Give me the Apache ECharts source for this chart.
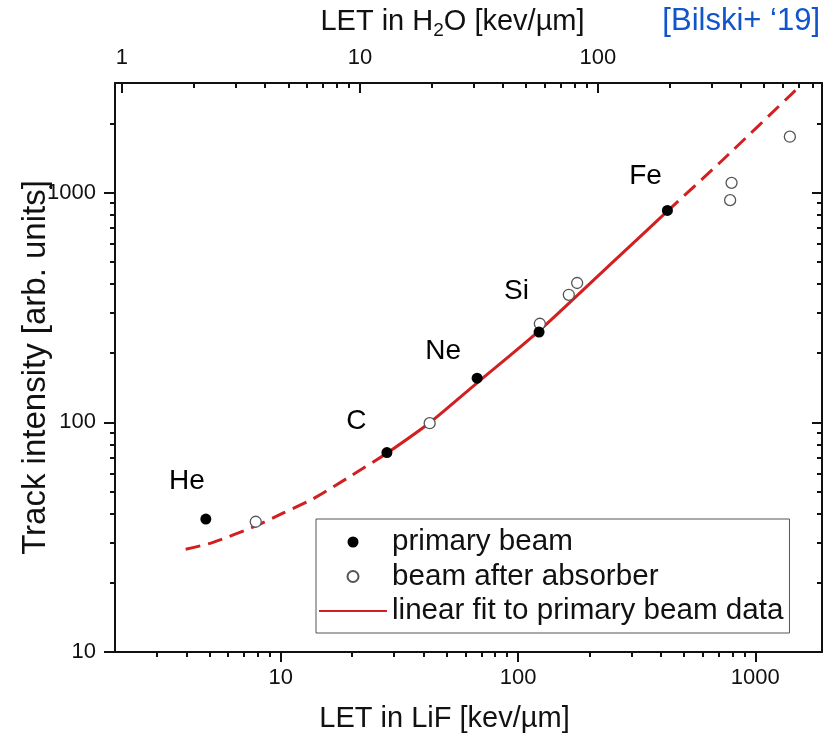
<!DOCTYPE html>
<html><head><meta charset="utf-8">
<script src="https://cdn.jsdelivr.net/npm/echarts@6/dist/echarts.min.js"></script>
<style>html,body{margin:0;padding:0;background:#fff}#c{width:839px;height:740px}</style>
</head><body><div id="c"></div>
<script>
// ---- data ----
const primaryLiF = [4.83, 28.0, 67.2, 122.6, 426];
const primaryIntensity = [37.9, 73.8, 155.7, 247, 836];
const absorberLiF = [7.84, 42.4, 123.5, 163.6, 177.4, 783, 794, 1398];
const absorberIntensity = [36.9, 99.1, 268.6, 359, 404, 927, 1103, 1751];
// fit curve, points
const fitLowLiF = [3.97, 5.18, 7.84, 10.2, 13.7, 18.9, 28.0];
const fitLowIntensity = [28.0, 30.0, 35.4, 40.2, 46.5, 56.8, 73.3];
const fitMidLiF = [28.0, 42.4, 67.2, 122.6, 260, 426];
const fitMidIntensity = [73.3, 99.5, 148.5, 250, 516, 830];
const fitHighLiF = [426, 708, 1515];
const fitHighIntensity = [830, 1349, 2860];
// ion labels (placed in data coordinates)
const ionNames = ['He', 'C', 'Ne', 'Si', 'Fe'];
const ionLabelLiF = [4.02, 20.8, 48.3, 98.4, 344.5];
const ionLabelIntensity = [55.1, 100.7, 203, 371.5, 1179];
// axis ticks
const lifMajor = [10, 100, 1000];
const lifMinor = [3,4,5,6,7,8,9,20,30,40,50,60,70,80,90,200,300,400,500,600,700,800,900];
const h2oMajor = [1, 10, 100];
const h2oMinor = [2,3,4,5,6,7,8,9,20,30,40,50,60,70,80,90,200,300,400,500,600,700,800];
const yMajor = [10, 100, 1000];
const yMinor = [20,30,40,50,60,70,80,90,200,300,400,500,600,700,800,900,2000];
const lifRange = [2, 1910];
const h2oRange = [0.935, 875];
const yRange = [10, 3000];

const FONT = '"Liberation Sans", Arial, sans-serif';
const INK = '#111';
const RED = '#d21f1f';

function logAxis(o) {
  return {
    type: 'log', logBase: 10, gridIndex: 0, position: o.pos,
    min: o.range[0], max: o.range[1],
    splitLine: {show: false}, minorTick: {show: false}, minorSplitLine: {show: false},
    axisLine: {show: o.line, onZero: false, lineStyle: {color: INK, width: 2}},
    axisTick: {show: true, inside: o.inside, length: o.len, lineStyle: {color: INK, width: 2}, customValues: o.ticks},
    axisLabel: o.labels ? {show: true, customValues: o.labels, fontFamily: FONT, fontSize: 22, color: INK, margin: o.margin,
      formatter: v => String(Math.round(v))} : {show: false},
    name: o.name || '', nameLocation: 'middle', nameGap: o.nameGap || 0,
    nameTextStyle: o.nameStyle || {},
    nameMoveOverlap: false,
    silent: true
  };
}
const pairs = (xs, ys) => xs.map((x, i) => [x, ys[i]]);

const chart = echarts.init(document.getElementById('c'));
chart.setOption({
  animation: false,
  backgroundColor: '#fff',
  grid: {left: 115, right: 17, top: 83, bottom: 88, outerBoundsMode: 'none', containLabel: false},
  xAxis: [
    logAxis({pos: 'bottom', range: lifRange, line: true, inside: false, len: 10, ticks: lifMajor, labels: lifMajor, margin: 15,
      name: 'LET in LiF [kev/µm]', nameGap: 52,
      nameStyle: {fontFamily: FONT, fontSize: 29, color: INK, padding: [0, 48, 0, 0]}}),
    logAxis({pos: 'bottom', range: lifRange, line: false, inside: false, len: 5, ticks: lifMinor}),
    logAxis({pos: 'top', range: h2oRange, line: true, inside: true, len: 10, ticks: h2oMajor, labels: h2oMajor, margin: 14,
      name: 'LET in H{s|2}O [kev/µm]', nameGap: 43,
      nameStyle: {fontFamily: FONT, fontSize: 29, color: INK, padding: [0, 32, 0, 0],
        rich: {s: {fontFamily: FONT, fontSize: 19, color: INK, verticalAlign: 'bottom', padding: [18, 0, 0, 0]}}}}),
    logAxis({pos: 'top', range: h2oRange, line: false, inside: true, len: 5, ticks: h2oMinor})
  ],
  yAxis: [
    logAxis({pos: 'left', range: yRange, line: true, inside: false, len: 11, ticks: yMajor, labels: yMajor, margin: 19,
      name: 'Track intensity [arb. units]', nameGap: 63,
      nameStyle: {fontFamily: FONT, fontSize: 33, color: INK}}),
    logAxis({pos: 'left', range: yRange, line: false, inside: false, len: 5, ticks: yMinor}),
    logAxis({pos: 'right', range: yRange, line: true, inside: true, len: 10, ticks: yMajor}),
    logAxis({pos: 'right', range: yRange, line: false, inside: true, len: 5, ticks: yMinor})
  ],
  legend: {
    data: [
      {name: 'primary beam', icon: 'circle'},
      {name: 'beam after absorber', icon: 'circle'},
      {name: 'linear fit to primary beam data', itemStyle: {color: 'rgba(0,0,0,0)', borderWidth: 0, opacity: 0}}
    ],
    orient: 'vertical', left: 316, top: 519, itemWidth: 68, itemHeight: 11, itemGap: 4.5,
    padding: [8, 6, 7, 2], borderColor: '#555', borderWidth: 1, borderRadius: 0,
    textStyle: {fontFamily: FONT, fontSize: 29.6, color: INK, lineHeight: 30},
    selectedMode: false
  },
  graphic: [{type: 'text', right: 19, top: 6, silent: true,
    style: {text: '[Bilski+ \u201819]', fontFamily: FONT, fontSize: 31, fill: '#1155cc'}}],
  series: [
    {name: 'fit low', type: 'line', xAxisIndex: 0, yAxisIndex: 0, data: pairs(fitLowLiF, fitLowIntensity),
      smooth: 0.25, symbol: 'none', lineStyle: {color: RED, width: 3, type: [15, 8]}, silent: true, z: 2},
    {name: 'linear fit to primary beam data', type: 'line', xAxisIndex: 0, yAxisIndex: 0, data: pairs(fitMidLiF, fitMidIntensity),
      smooth: 0.25, symbol: 'none', itemStyle: {color: RED}, lineStyle: {color: RED, width: 3}, silent: true, z: 2},
    {name: 'fit high', type: 'line', xAxisIndex: 0, yAxisIndex: 0, data: pairs(fitHighLiF, fitHighIntensity),
      smooth: 0.25, symbol: 'none', lineStyle: {color: RED, width: 3, type: [15, 8]}, silent: true, z: 2},
    {name: 'beam after absorber', type: 'scatter', xAxisIndex: 0, yAxisIndex: 0, data: pairs(absorberLiF, absorberIntensity),
      symbol: 'circle', symbolSize: 11, itemStyle: {color: '#fff', borderColor: '#555', borderWidth: 1.3, opacity: 1}, z: 3, silent: true},
    {name: 'primary beam', type: 'scatter', xAxisIndex: 0, yAxisIndex: 0, data: pairs(primaryLiF, primaryIntensity),
      symbol: 'circle', symbolSize: 11, itemStyle: {color: '#000', opacity: 1}, z: 4, silent: true},
    {name: 'ions', type: 'scatter', xAxisIndex: 0, yAxisIndex: 0, symbolSize: 0, silent: true, z: 5,
      itemStyle: {opacity: 1},
      data: ionNames.map((n, i) => ({name: n, value: [ionLabelLiF[i], ionLabelIntensity[i]]})),
      label: {show: true, position: 'inside', formatter: p => p.name, fontFamily: FONT, fontSize: 28, color: '#000',
        textBorderWidth: 0}}
  ]
});
</script></body></html>
